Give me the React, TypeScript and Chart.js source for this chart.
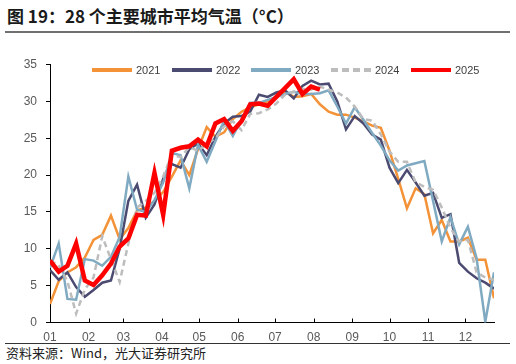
import React, { useEffect, useRef } from 'react';
import { Chart, registerables } from 'chart.js';

Chart.register(...registerables);

// ---- data (weekly average temperature, °C) ----
const seriesNames = ['2021', '2022', '2023', '2024', '2025'];
const values2021 = [2.5, 5.6, 6.8, 7.5, 8.8, 11.2, 11.9, 14.5, 11.3, 12.8, 15.2, 15.6, 16.5, 17.7, 19.8, 22.0, 20.0, 23.5, 26.5, 25.2, 25.8, 27.6, 28.6, 29.2, 29.6, 30.0, 30.5, 31.3, 30.6, 30.7, 31.0, 29.6, 28.6, 28.2, 28.2, 27.8, 27.3, 26.7, 26.4, 23.3, 19.5, 15.5, 18.2, 17.4, 12.1, 13.9, 11.0, 11.0, 11.5, 8.5, 8.5, 3.3];
const values2022 = [7.1, 5.8, 6.8, 4.8, 3.5, 4.4, 5.4, 5.7, 10.0, 16.5, 18.7, 14.2, 16.0, 19.5, 21.5, 21.0, 23.5, 24.3, 22.7, 25.2, 27.0, 27.9, 28.0, 28.6, 30.9, 30.6, 31.2, 31.5, 30.4, 32.1, 32.8, 32.3, 32.4, 30.0, 26.2, 28.0, 27.0, 25.5, 24.8, 21.0, 18.9, 20.7, 19.0, 17.2, 17.6, 14.2, 14.7, 8.1, 6.9, 6.0, 5.4, 4.6];
const values2023 = [7.4, 10.7, 3.2, 3.1, 8.6, 8.4, 7.7, 8.9, 11.6, 19.8, 15.3, 15.0, 16.6, 19.0, 23.0, 22.7, 18.2, 24.1, 21.8, 24.6, 27.4, 25.3, 27.5, 29.8, 29.8, 30.2, 30.6, 31.0, 31.3, 31.0, 31.0, 31.1, 31.5, 29.3, 27.0, 29.2, 27.5, 25.7, 24.0, 22.0, 20.6, 21.3, 21.6, 21.9, 16.5, 11.0, 14.3, 10.6, 13.0, 8.7, 0.1, 6.8];
const values2024 = [8.4, 7.8, 5.6, 1.2, 4.5, 6.1, 11.7, 8.6, 5.5, 10.7, 15.6, 16.5, 17.6, 19.8, 22.8, 22.4, 23.8, 23.3, 24.2, 25.0, 26.6, 27.3, 26.1, 28.3, 28.4, 28.9, 29.7, 30.9, 31.3, 31.7, 31.6, 32.0, 31.6, 31.2, 30.5, 29.3, 27.6, 27.4, 25.5, 23.2, 21.8, 21.8, 19.0, 18.4, 18.0, 15.6, 12.8, 11.0, 11.2, 6.8, 6.1, 5.8];
const values2025 = [8.4, 6.9, 7.7, 10.7, 5.7, 5.1, 6.4, 8.0, 10.3, 11.4, 14.6, 14.5, 20.3, 14.6, 23.3, 23.7, 23.9, 24.8, 23.9, 27.0, 27.6, 26.0, 27.3, 29.6, 29.7, 29.4, 30.6, 31.8, 33.0, 31.0, 32.0, 31.6];

const monthLabels = ['01', '02', '03', '04', '05', '06', '07', '08', '09', '10', '11', '12'];
const daysInMonth = [31, 28, 31, 30, 31, 30, 31, 31, 30, 31, 30, 31];
const yTicks = [0, 5, 10, 15, 20, 25, 30, 35];

const seriesColors = ['#F39237', '#4B4A70', '#80AAC2', '#BDBDBD', '#FF0000'];
const seriesWidths = [2.5, 2.5, 2.5, 2.5, 4.5];
const seriesDashes: number[][] = [[], [], [], [6, 4], []];

const titleText = '图 19：28 个主要城市平均气温（°C）';
const sourceText = '资料来源：Wind，光大证券研究所';

// week index at which each month begins
const monthStartWeeks = daysInMonth.map((_, m) =>
  daysInMonth.slice(0, m).reduce((a, b) => a + b, 0) / 7
);

const allSeries = [values2021, values2022, values2023, values2024, values2025];

const innerTicks = {
  id: 'innerTicks',
  afterDraw(chart: any) {
    const { ctx, chartArea } = chart;
    const x = chart.scales.x;
    ctx.save();
    ctx.strokeStyle = '#000';
    ctx.lineWidth = 1;
    x.ticks.forEach((t: any) => {
      const px = Math.round(x.getPixelForValue(t.value)) + 0.5;
      ctx.beginPath();
      ctx.moveTo(px, chartArea.bottom);
      ctx.lineTo(px, chartArea.bottom - 4);
      ctx.stroke();
    });
    ctx.restore();
  },
};

export default function App() {
  const ref = useRef<HTMLCanvasElement>(null);

  useEffect(() => {
    const canvas = ref.current!;
    const chart = new Chart(canvas, {
      type: 'line',
      data: {
        datasets: seriesNames.map((name, k) => ({
          label: name,
          data: allSeries[k].map((v, i) => ({ x: i, y: v })),
          borderColor: seriesColors[k],
          backgroundColor: seriesColors[k],
          borderWidth: seriesWidths[k],
          borderDash: seriesDashes[k],
          pointRadius: 0,
          pointHoverRadius: 0,
          tension: 0,
          fill: false,
          order: 5 - k,
        })),
      },
      options: {
        responsive: false,
        animation: false,
        devicePixelRatio: 1,
        layout: { padding: { top: 24.5, right: 22, bottom: 0, left: 0 } },
        plugins: {
          legend: { display: false },
          tooltip: { enabled: false },
        },
        scales: {
          x: {
            type: 'linear',
            min: 0,
            max: 51,
            afterBuildTicks: (scale: any) => {
              scale.ticks = monthStartWeeks.map((v) => ({ value: v }));
            },
            afterFit: (scale: any) => {
              scale.height = 20.5;
            },
            grid: { display: true, drawOnChartArea: false, drawTicks: false, color: 'rgba(0,0,0,0)' },
            border: { display: true, color: '#000', width: 1 },
            ticks: {
              autoSkip: false,
              maxRotation: 0,
              minRotation: 0,
              padding: 8,
              color: '#595959',
              font: { family: '"Liberation Sans", Arial, sans-serif', size: 12 },
              callback: (_v: any, idx: number) => monthLabels[idx],
            },
          },
          y: {
            type: 'linear',
            min: 0,
            max: 35,
            afterBuildTicks: (scale: any) => {
              scale.ticks = yTicks.map((v) => ({ value: v }));
            },
            afterFit: (scale: any) => {
              scale.width = 50;
            },
            grid: { display: true, drawOnChartArea: false, drawTicks: true, tickLength: 4, color: '#000' },
            border: { display: true, color: '#000', width: 1 },
            ticks: {
              padding: 9,
              color: '#595959',
              font: { family: '"Liberation Sans", Arial, sans-serif', size: 12 },
            },
          },
        },
      },
      plugins: [innerTicks],
    } as any);
    return () => chart.destroy();
  }, []);

  const legendLeft = [92, 172, 251, 331, 411];

  return (
    <div style={{ position: 'absolute', left: 0, top: 0, width: 516, height: 364, background: '#fff', overflow: 'hidden' }}>
      <div
        style={{
          position: 'absolute',
          left: 7,
          top: 4,
          font: 'bold 17px "Noto Sans CJK SC", sans-serif',
          lineHeight: '24px',
          color: '#1a1a1a',
          whiteSpace: 'nowrap',
        }}
      >
        {titleText}
      </div>
      <div style={{ position: 'absolute', left: 5, top: 31, width: 505, height: 1.5, background: '#707070' }} />
      <canvas
        ref={ref}
        width={516}
        height={303}
        style={{ position: 'absolute', left: 0, top: 40, width: 516, height: 303 }}
      />
      {seriesNames.map((name, k) => (
        <React.Fragment key={name}>
          <div
            style={{
              position: 'absolute',
              left: legendLeft[k],
              top: 70 - (k === 4 ? 2 : 1.75),
              width: 40,
              height: k === 4 ? 4 : 3.5,
              background:
                seriesDashes[k].length > 0
                  ? `repeating-linear-gradient(to right, ${seriesColors[k]} 0 7px, transparent 7px 11px)`
                  : seriesColors[k],
            }}
          />
          <div
            style={{
              position: 'absolute',
              left: legendLeft[k] + 44,
              top: 62,
              font: '11px "Liberation Sans", Arial, sans-serif',
              lineHeight: '16px',
              color: '#404040',
              whiteSpace: 'nowrap',
            }}
          >
            {name}
          </div>
        </React.Fragment>
      ))}
      <div style={{ position: 'absolute', left: 5, top: 343, width: 505, height: 1, background: '#333' }} />
      <div
        style={{
          position: 'absolute',
          left: 6,
          top: 344,
          font: '13px "Noto Sans CJK SC", sans-serif',
          lineHeight: '18px',
          color: '#222',
          whiteSpace: 'nowrap',
        }}
      >
        {sourceText}
      </div>
    </div>
  );
}
